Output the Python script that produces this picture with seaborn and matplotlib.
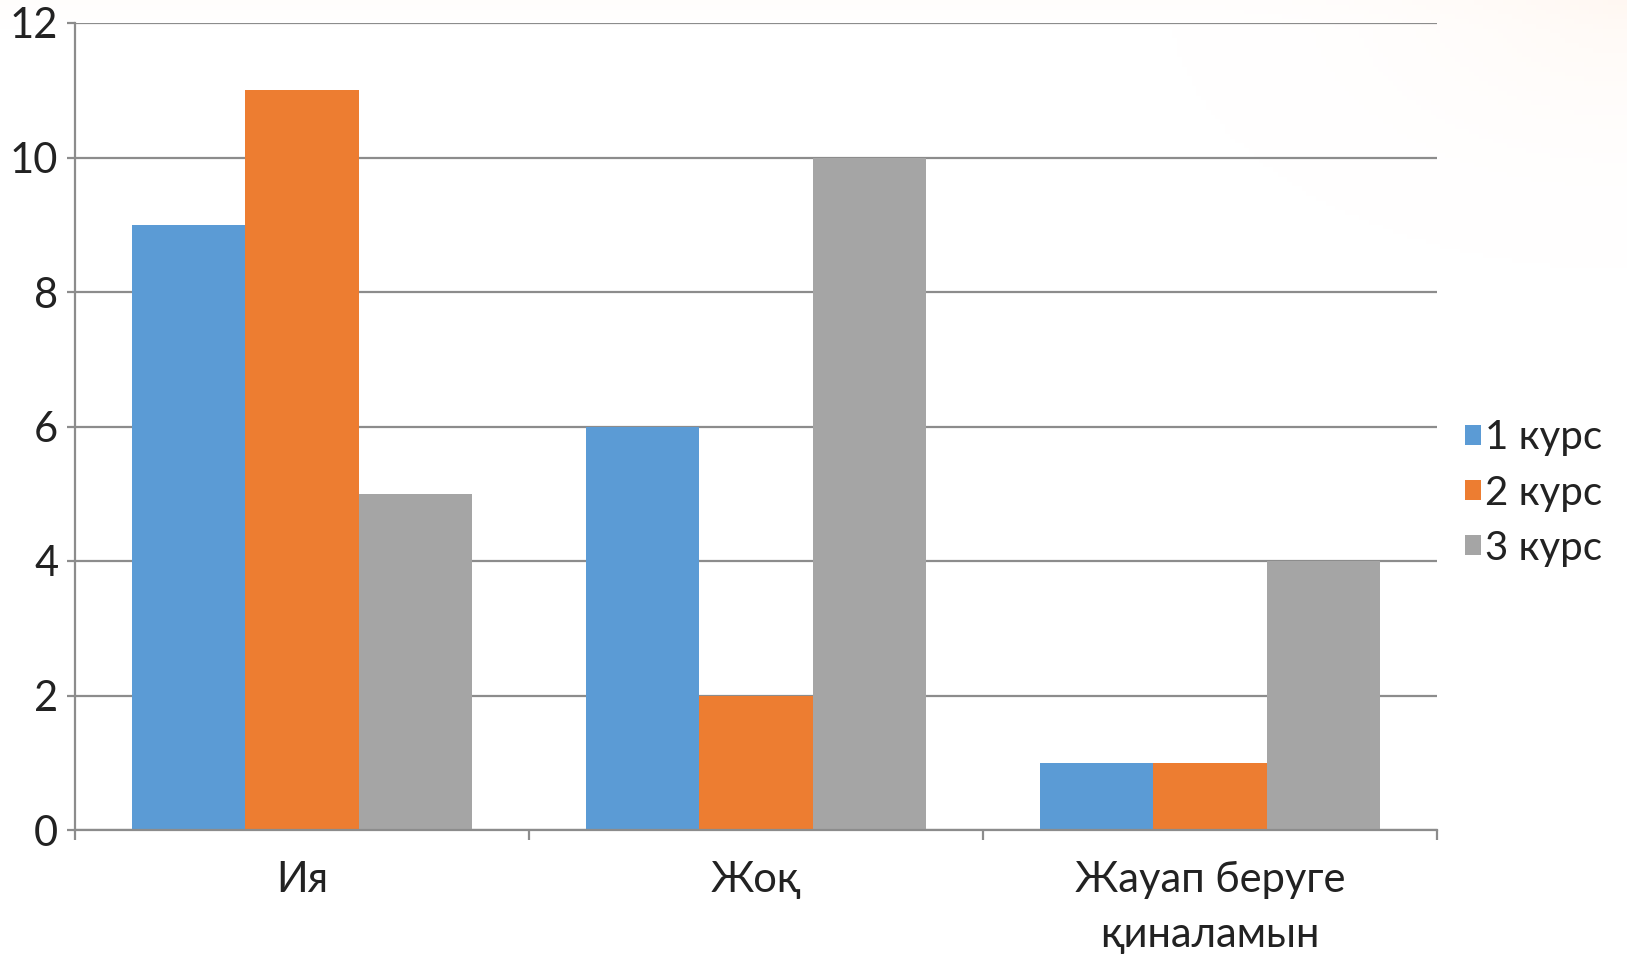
import matplotlib
matplotlib.use("Agg")
import matplotlib.pyplot as plt
import numpy as np
import pandas as pd
import seaborn as sns
from matplotlib.patches import Patch

categories = ["Ия", "Жоқ", "Жауап беруге\nқиналамын"]
series = ["1 курс", "2 курс", "3 курс"]
values_1 = [9, 6, 1]
values_2 = [11, 2, 1]
values_3 = [5, 10, 4]
colors = ["#5B9BD5", "#ED7D31", "#A5A5A5"]
yticks = [0, 2, 4, 6, 8, 10, 12]

df = pd.DataFrame({
    "cat": categories * 3,
    "series": [series[0]] * 3 + [series[1]] * 3 + [series[2]] * 3,
    "value": values_1 + values_2 + values_3,
})

sns.set_theme(style="white")
plt.rcParams["font.family"] = ["Lato", "DejaVu Sans"]

W, H = 1627, 956
fig = plt.figure(figsize=(W / 100, H / 100), dpi=100)

# faint warm glow in the background (top right)
bg = fig.add_axes([0, 0, 1, 1], zorder=-10)
yy, xx = np.mgrid[0:1:200j, 0:1:340j]
d = np.sqrt(((xx - 1.0) / 0.28) ** 2 + ((yy - 0.0) / 0.28) ** 2)
glow = np.clip(1 - d, 0, 1) ** 2 * 0.12 + np.clip(1 - yy / 0.03, 0, 1) * 0.025
img = np.ones((200, 340, 3))
tint = np.array([1.0, 0.80, 0.65])
img = img * (1 - glow[..., None]) + tint * glow[..., None]
bg.imshow(img, extent=[0, 1, 0, 1], origin="upper", aspect="auto")
bg.set_axis_off()

ax = fig.add_axes([75 / W, 1 - 830 / H, (1437 - 75) / W, (830 - 23) / H])
ax.patch.set_alpha(0)

sns.barplot(data=df, x="cat", y="value", hue="series", order=categories,
            hue_order=series, palette=colors, width=0.75, linewidth=0,
            saturation=1, ax=ax, legend=False)

ax.set_xlim(-0.5, 2.5)
ax.set_ylim(0, 12)
ax.set_yticks(yticks)
ax.set_xlabel("")
ax.set_ylabel("")

gridc = "#8C8C8C"
ax.yaxis.grid(True, color=gridc, linewidth=1.6)
ax.set_axisbelow(True)
for s in ["top", "right"]:
    ax.spines[s].set_visible(False)
for s in ["left", "bottom"]:
    ax.spines[s].set_color(gridc)
    ax.spines[s].set_linewidth(1.6)

FS = 30
ax.tick_params(axis="y", which="major", direction="out", length=6, width=1.6,
               color=gridc, labelsize=FS, labelcolor="#222222", pad=6, left=True)
ax.set_xticks([-0.5, 0.5, 1.5, 2.5], minor=True)
ax.tick_params(axis="x", which="minor", direction="out", length=7, width=1.6,
               color=gridc, bottom=True)
ax.tick_params(axis="x", which="major", length=0, labelsize=FS,
               labelcolor="#222222", pad=22)
for lbl in ax.get_xticklabels():
    lbl.set_linespacing(1.55)

handles = [Patch(facecolor=c, edgecolor="none", label=s) for c, s in zip(colors, series)]
leg = fig.legend(handles=handles, loc="center left",
                 bbox_to_anchor=(1445 / W, 1 - 493 / H), frameon=False,
                 fontsize=29, handlelength=0.4, handleheight=0.4,
                 handletextpad=0.1, labelspacing=0.45, borderpad=0)
for t in leg.get_texts():
    t.set_color("#222222")

fig.savefig("out.png", dpi=100)
